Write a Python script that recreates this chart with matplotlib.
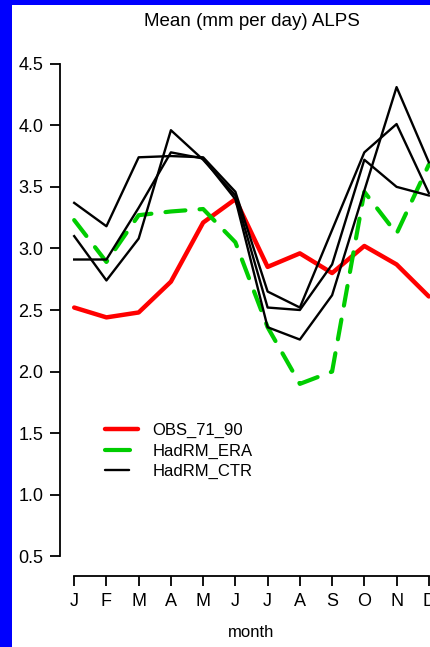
import numpy as np
import matplotlib
matplotlib.use('Agg')
import matplotlib.pyplot as plt
from matplotlib.lines import Line2D
from matplotlib.patches import Rectangle

plt.rcParams['font.family'] = ['Liberation Sans', 'DejaVu Sans']

# monthly mean precipitation (mm per day)
months = ['J', 'F', 'M', 'A', 'M', 'J', 'J', 'A', 'S', 'O', 'N', 'D']
obs_71_90 = [2.52, 2.44, 2.48, 2.73, 3.21, 3.40, 2.85, 2.96, 2.80, 3.02, 2.87, 2.61]
hadrm_era = [3.23, 2.89, 3.27, 3.30, 3.32, 3.05, 2.36, 1.90, 2.00, 3.46, 3.12, 3.68]
hadrm_ctr_1 = [3.37, 3.18, 3.74, 3.75, 3.74, 3.46, 2.65, 2.52, 3.15, 3.78, 4.01, 3.45]
hadrm_ctr_2 = [3.10, 2.74, 3.08, 3.96, 3.72, 3.43, 2.52, 2.50, 2.87, 3.72, 3.50, 3.43]
hadrm_ctr_3 = [2.91, 2.91, 3.33, 3.78, 3.73, 3.40, 2.36, 2.26, 2.62, 3.47, 4.31, 3.70]
yticks = [0.5, 1.0, 1.5, 2.0, 2.5, 3.0, 3.5, 4.0, 4.5]

W, H = 430, 647
fig = plt.figure(figsize=(W / 100, H / 100), dpi=100, facecolor='#0000fe')
# white page with the blue frame showing on the left and top
fig.add_artist(Rectangle((12 / W, 0), 1, 1 - 5 / H, transform=fig.transFigure,
                         facecolor='white', edgecolor='none', zorder=-1))

# plot region runs past the right edge (the original is cropped there)
ax = fig.add_axes([60 / W, 1 - 576 / H, 383 / W, 532 / H])
ax.set_facecolor('none')

x = np.arange(len(months))
ax.plot(x, obs_71_90, color='#ff0000', lw=3.2,
        solid_capstyle='round', solid_joinstyle='round')
ax.plot(x, hadrm_era, color='#00cd00', lw=3, dashes=(4.8, 3.4),
        dash_capstyle='round', dash_joinstyle='round')
for ctr in [hadrm_ctr_1, hadrm_ctr_2, hadrm_ctr_3]:
    ax.plot(x, ctr, color='black', lw=1.7, solid_joinstyle='round')

ax.set_xlim(-0.44, 11.44)
ax.set_ylim(0.34, 4.66)
ax.set_xticks(x)
ax.set_xticklabels(months)
ax.set_yticks(yticks)
ax.set_yticklabels(['%.1f' % v for v in yticks])

for side in ['top', 'right']:
    ax.spines[side].set_visible(False)
ax.spines['left'].set_bounds(yticks[0], yticks[-1])
ax.spines['bottom'].set_bounds(x[0], x[-1])
for side in ['left', 'bottom']:
    ax.spines[side].set_linewidth(1.3)
ax.tick_params(axis='both', direction='out', length=7, width=1.3,
               labelsize=13, colors='black')
ax.tick_params(axis='y', pad=5)
ax.tick_params(axis='x', pad=5)

ax.set_title('Mean (mm per day) ALPS', fontsize=13.5, pad=13)
ax.set_xlabel('month', fontsize=12, labelpad=11)

# legend with short solid handles like the original
handles = [
    Line2D([], [], color='#ff0000', lw=3.2, solid_capstyle='round'),
    Line2D([], [], color='#00cd00', lw=3, dashes=(6.0, 6.0), dash_capstyle='round'),
    Line2D([], [], color='black', lw=1.7, dashes=(10.2, 10.0), dash_capstyle='round'),
]
ax.legend(handles, ['OBS_71_90', 'HadRM_ERA', 'HadRM_CTR'],
          loc='center left', bbox_to_anchor=(105 / W, 1 - 451 / H),
          bbox_transform=fig.transFigure, frameon=False, fontsize=12,
          handlelength=1.96, handletextpad=0.9, labelspacing=0.34,
          borderpad=0, borderaxespad=0)

plt.savefig('out.png', dpi=100, facecolor=fig.get_facecolor())
